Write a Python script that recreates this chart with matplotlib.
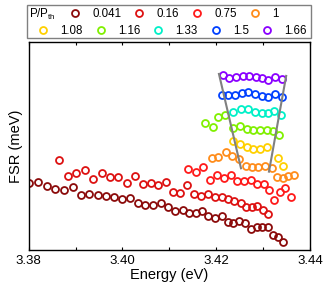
import numpy as np
import matplotlib
matplotlib.use('Agg')
import matplotlib.pyplot as plt
from matplotlib.lines import Line2D
from matplotlib.patches import Rectangle

plt.rcParams['font.family'] = ['Liberation Sans', 'DejaVu Sans']

# pump power P/Pth for each data set
powers = ['0.041', '0.16', '0.75', '1', '1.08', '1.16', '1.33', '1.5', '1.66']
colors = ['#8b0a0a', '#dd1111', '#ff1a1a', '#ff8c1a', '#ffd000',
          '#80f000', '#00f0c8', '#0040ff', '#8a00ff']

# energy (eV) / FSR (meV, arbitrary offset - no y labels on the original)
e_0041 = [3.3800, 3.38192, 3.38384, 3.38567, 3.38753, 3.38939, 3.39116, 3.39293,
          3.39472, 3.39649, 3.39826, 3.39997, 3.40167, 3.40325, 3.40487, 3.40651,
          3.40816, 3.40965, 3.41121, 3.41285, 3.41426, 3.41569, 3.41707, 3.41831,
          3.41974, 3.42117, 3.42258, 3.42364, 3.42492, 3.42614, 3.42736, 3.42864,
          3.42977, 3.43111, 3.43218, 3.43324, 3.43418]
f_0041 = [4.667, 4.68, 4.64, 4.61, 4.597, 4.627, 4.553, 4.557, 4.553, 4.537, 4.53,
          4.51, 4.523, 4.467, 4.453, 4.45, 4.467, 4.425, 4.387, 4.40, 4.373, 4.373,
          4.39, 4.335, 4.315, 4.34, 4.283, 4.267, 4.29, 4.267, 4.21, 4.227, 4.227,
          4.233, 4.15, 4.127, 4.08]

e_016 = [3.38653, 3.38832, 3.39015, 3.39201, 3.39378, 3.39557, 3.39734, 3.39911,
         3.40090, 3.40268, 3.40432, 3.40602, 3.40765, 3.40929, 3.41072, 3.41227,
         3.41370, 3.41537, 3.41686, 3.41821, 3.41974, 3.42117, 3.42258, 3.42386,
         3.42522, 3.42635, 3.42757, 3.42876, 3.42992, 3.43111]
f_016 = [4.90, 4.74, 4.773, 4.80, 4.707, 4.773, 4.727, 4.733, 4.667, 4.737, 4.658,
         4.67, 4.645, 4.677, 4.583, 4.567, 4.647, 4.557, 4.535, 4.555, 4.527, 4.527,
         4.507, 4.493, 4.473, 4.433, 4.427, 4.44, 4.40, 4.357]

e_075 = [3.41404, 3.41569, 3.41724, 3.41867, 3.42023, 3.42166, 3.42309, 3.42454,
         3.42588, 3.42742, 3.42881, 3.43020, 3.43132, 3.43226, 3.43361, 3.43478,
         3.43599]
f_075 = [4.805, 4.783, 4.828, 4.697, 4.75, 4.717, 4.753, 4.69, 4.69, 4.70, 4.66,
         4.66, 4.60, 4.50, 4.577, 4.617, 4.533]

e_1 = [3.41904, 3.42044, 3.42204, 3.42347, 3.42482, 3.42629, 3.42761, 3.42902,
       3.43040, 3.43183, 3.43292, 3.43416, 3.43540, 3.43665]
f_1 = [4.917, 4.925, 4.975, 4.94, 4.91, 4.843, 4.825, 4.825, 4.843, 4.817,
       4.73, 4.722, 4.743, 4.745]

e_108 = [3.42364, 3.42507, 3.42650, 3.42791, 3.42934, 3.43077, 3.43318, 3.43431]
f_108 = [5.09, 5.06, 5.033, 5.013, 5.013, 5.025, 4.915, 4.837]

e_116 = [3.41770, 3.41935, 3.42049, 3.42188, 3.42364, 3.42518, 3.42657, 3.42791,
         3.42934, 3.43077, 3.43211, 3.43346]
f_116 = [5.273, 5.227, 5.327, 5.345, 5.22, 5.237, 5.207, 5.195, 5.195, 5.195,
         5.19, 5.15]

e_133 = [3.42364, 3.42539, 3.42684, 3.42827, 3.42970, 3.43111, 3.43243, 3.43382]
f_133 = [5.383, 5.407, 5.412, 5.38, 5.37, 5.374, 5.388, 5.353]

e_15 = [3.42117, 3.42258, 3.42401, 3.42544, 3.42684, 3.42827, 3.42970, 3.43111,
        3.43254, 3.43397]
f_15 = [5.55, 5.55, 5.55, 5.567, 5.575, 5.558, 5.54, 5.533, 5.56, 5.527]

e_166 = [3.42138, 3.42279, 3.42422, 3.42565, 3.42706, 3.42849, 3.42987, 3.43111,
         3.43254, 3.43397]
f_166 = [5.75, 5.717, 5.733, 5.74, 5.74, 5.727, 5.717, 5.70, 5.733, 5.705]

# guide lines (gray)
guide_left_e = [3.42059, 3.42529]
guide_left_f = [5.76, 4.817]
guide_right_e = [3.43493, 3.43126]
guide_right_f = [5.74, 4.783]

energies = [e_0041, e_016, e_075, e_1, e_108, e_116, e_133, e_15, e_166]
fsrs = [f_0041, f_016, f_075, f_1, f_108, f_116, f_133, f_15, f_166]

fig = plt.figure(figsize=(3.27, 2.87), dpi=100)
ax = fig.add_axes([0.0878, 0.129, 0.8600, 0.725])

for e, f, c in zip(energies, fsrs, colors):
    ax.plot(e, f, 'o', ls='none', ms=5.0, mfc='none', mec=c, mew=1.3)

ax.plot(guide_left_e, guide_left_f, color='#808080', lw=1.5, zorder=5)
ax.plot(guide_right_e, guide_right_f, color='#808080', lw=1.5, zorder=5)

ax.set_xlim(3.38, 3.44)
ax.set_ylim(4.0, 6.08)
ax.set_xticks([3.38, 3.40, 3.42, 3.44])
ax.set_xticks([3.39, 3.41, 3.43], minor=True)
ax.set_xticklabels(['3.38', '3.40', '3.42', '3.44'])
ax.set_yticks([])
ax.tick_params(axis='x', which='both', direction='in', top=True, length=2.4,
               width=0.8, labelsize=9.5, pad=3.5)
for s in ax.spines.values():
    s.set_linewidth(1.0)
ax.set_xlabel('Energy (eV)', fontsize=10.5, labelpad=0.5)
ax.set_ylabel('FSR (meV)', fontsize=10.5, labelpad=4)

# legend: two free-flowing rows inside a gray frame
def entry(i):
    return Line2D([], [], marker='o', ls='none', ms=5.0, mfc='none',
                  mec=colors[i], mew=1.3)

row1 = [0, 1, 2, 3]
row2 = [4, 5, 6, 7, 8]
kw = dict(frameon=False, fontsize=8.3, handlelength=0.8, handletextpad=1.1,
          columnspacing=1.15, borderpad=0, borderaxespad=0, loc='center left')
leg1 = fig.legend([entry(i) for i in row1], [powers[i] for i in row1],
                  ncol=len(row1), bbox_to_anchor=(0.216, 0.951), **kw)
leg2 = fig.legend([entry(i) for i in row2], [powers[i] for i in row2],
                  ncol=len(row2), bbox_to_anchor=(0.118, 0.892), **kw)
fig.text(0.089, 0.951, 'P/P$_{\\mathregular{th}}$', fontsize=8.3, va='center')
fig.patches.append(Rectangle((0.0826, 0.868), 0.8685, 0.115, transform=fig.transFigure,
                             fill=False, edgecolor='#808080', lw=1.0))

plt.savefig('out.png', dpi=100)
